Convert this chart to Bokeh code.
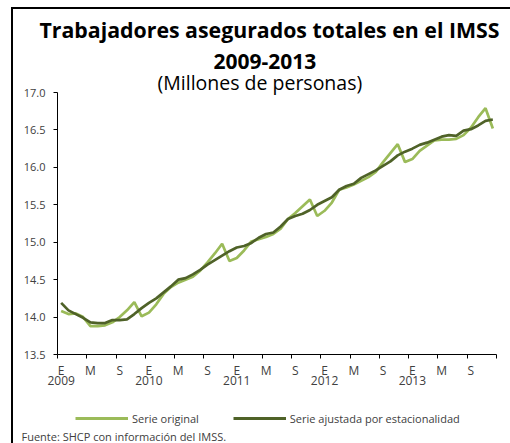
from bokeh.plotting import figure
from bokeh.layouts import column
from bokeh.models import (Range1d, FixedTicker, LinearAxis, Legend, LegendItem, Title,
                          NumeralTickFormatter, ColumnDataSource)
from bokeh.embed import file_html
from bokeh.resources import INLINE

# ---------------- data ----------------
years = ["2009", "2010", "2011", "2012", "2013"]
month_letters = ["E", "M", "S"]
serie_original = [
    14.08, 14.04, 14.05, 14.00, 13.88, 13.88, 13.89, 13.93, 14.00, 14.09, 14.20, 14.01,
    14.06, 14.17, 14.31, 14.40, 14.46, 14.50, 14.54, 14.62, 14.73, 14.85, 14.98, 14.75,
    14.79, 14.89, 15.01, 15.04, 15.07, 15.11, 15.18, 15.31, 15.39, 15.48, 15.57, 15.35,
    15.42, 15.53, 15.70, 15.73, 15.77, 15.82, 15.87, 15.94, 16.07, 16.19, 16.31, 16.07,
    16.11, 16.22, 16.29, 16.36, 16.37, 16.37, 16.38, 16.43, 16.53, 16.67, 16.79, 16.52,
]
serie_ajustada = [
    14.19, 14.09, 14.04, 13.99, 13.93, 13.92, 13.92, 13.96, 13.96, 13.97, 14.04, 14.12,
    14.19, 14.25, 14.33, 14.41, 14.50, 14.52, 14.57, 14.63, 14.70, 14.76, 14.82, 14.88,
    14.93, 14.95, 14.99, 15.06, 15.11, 15.13, 15.21, 15.31, 15.35, 15.38, 15.43, 15.50,
    15.55, 15.60, 15.70, 15.75, 15.78, 15.86, 15.91, 15.96, 16.02, 16.08, 16.16, 16.21,
    16.25, 16.30, 16.33, 16.37, 16.41, 16.43, 16.42, 16.49, 16.51, 16.56, 16.62, 16.64,
]
y_ticks = [13.5, 14.0, 14.5, 15.0, 15.5, 16.0, 16.5, 17.0]

title_1 = "Trabajadores asegurados totales en el IMSS"
title_2 = "2009-2013"
subtitle = "(Millones de personas)"
legend_labels = ["Serie original", "Serie ajustada por estacionalidad"]
source_text = "Fuente: SHCP con información del IMSS."

LIGHT = "#9BBB59"
DARK = "#4F6228"
FONT = "Open Sans"
GRAY = "#404040"

n = len(serie_original)
months = list(range(n))
src = ColumnDataSource(dict(m=months, o=serie_original, a=serie_ajustada))

W = 510
HA, HB = 392, 51

# ---------------- main chart ----------------
p = figure(width=W, height=HA, output_backend="svg", toolbar_location=None,
           x_range=Range1d(-0.5, n - 0.5), y_range=Range1d(13.5, 17.0),
           min_border_left=57, min_border_right=14, min_border_top=92, min_border_bottom=38,
           x_axis_type=None, y_axis_type=None)
p.title.visible = False
p.xgrid.visible = False
p.ygrid.visible = False
p.outline_line_color = None
p.background_fill_alpha = 0
p.border_fill_alpha = 0
p.styles = {
    "background": ("linear-gradient(#000,#000) 11px 7px / 2px 100% no-repeat, "
                   "linear-gradient(#000,#000) 11px 7px / 100% 2px no-repeat, #fff"),
}

yax = LinearAxis(ticker=FixedTicker(ticks=y_ticks), formatter=NumeralTickFormatter(format="0.0"))
yax.axis_line_color = "black"
yax.axis_line_width = 1
yax.major_tick_line_color = "black"
yax.major_tick_out = 4
yax.major_tick_in = 0
yax.minor_tick_line_color = None
yax.major_label_text_font = FONT
yax.major_label_text_font_size = "11px"
yax.major_label_text_color = GRAY
yax.major_label_standoff = 8
p.add_layout(yax, "left")

major = list(range(0, n, 4))
minor = [b - 0.5 for b in range(0, n + 1, 4)]
xax = LinearAxis(ticker=FixedTicker(ticks=major, minor_ticks=minor))
xax.major_label_overrides = {m: month_letters[(m % 12) // 4] for m in major}
xax.axis_line_color = "black"
xax.axis_line_width = 1
xax.major_tick_line_color = None
xax.minor_tick_line_color = "black"
xax.minor_tick_out = 4
xax.minor_tick_in = 0
xax.major_tick_out = 4
xax.major_label_text_font = FONT
xax.major_label_text_font_size = "12px"
xax.major_label_text_color = GRAY
xax.major_label_standoff = 3
p.add_layout(xax, "below")

year_ticks = list(range(0, n, 12))
yrax = LinearAxis(ticker=FixedTicker(ticks=year_ticks, minor_ticks=[]))
yrax.major_label_overrides = {t: years[i] for i, t in enumerate(year_ticks)}
yrax.axis_line_color = None
yrax.major_tick_line_color = None
yrax.minor_tick_line_color = None
yrax.major_tick_out = 0
yrax.major_tick_in = 0
yrax.major_label_text_font = FONT
yrax.major_label_text_font_size = "12px"
yrax.major_label_text_color = GRAY
yrax.major_label_standoff = -6
p.add_layout(yrax, "below")

p.line("m", "o", source=src, line_color=LIGHT, line_width=2.7)
p.line("m", "a", source=src, line_color=DARK, line_width=2.7)

sub = Title(text=subtitle, align="left", offset=100, standoff=-6,
            text_font=FONT, text_font_size="19.5px", text_font_style="normal", text_color="black")
t2 = Title(text=title_2, align="left", offset=156, standoff=2,
           text_font=FONT, text_font_size="21px", text_font_style="bold", text_color="black")
t1 = Title(text=title_1, align="left", offset=-18, standoff=13,
           text_font=FONT, text_font_size="21.3px", text_font_style="bold", text_color="black")
p.add_layout(sub, "above")
p.add_layout(t2, "above")
p.add_layout(t1, "above")

# ---------------- legend + source strip (frame aligned with the chart's) ----------------
q = figure(width=W, height=HB, output_backend="svg", toolbar_location=None,
           x_range=Range1d(0, 1), y_range=Range1d(0, 1),
           min_border_left=57, min_border_right=14, min_border_top=0, min_border_bottom=16,
           x_axis_type=None, y_axis_type=None)
q.title.visible = False
q.xgrid.visible = False
q.ygrid.visible = False
q.outline_line_color = None
q.background_fill_alpha = 0
q.border_fill_alpha = 0
q.styles = {
    "background": "linear-gradient(#000,#000) 11px 0px / 2px 100% no-repeat, #fff",
}
# legend-only renderers (kept outside the visible range)
e1 = q.line(x=[-10, -9], y=[-10, -10], line_color=LIGHT, line_width=2.8)
e2 = q.line(x=[-10, -9], y=[-10, -10], line_color=DARK, line_width=2.8)
legend = Legend(items=[LegendItem(label=legend_labels[0], renderers=[e1]),
                       LegendItem(label=legend_labels[1], renderers=[e2])],
                orientation="horizontal", location=(18, 0.5),
                glyph_width=53, glyph_height=14, label_height=14, label_standoff=4, spacing=34,
                padding=0, margin=0, border_line_color=None, background_fill_alpha=0,
                label_text_font=FONT, label_text_font_size="11px", label_text_color=GRAY)
q.add_layout(legend, "center")
foot = Title(text=source_text, align="left", offset=-36, standoff=0,
             text_font=FONT, text_font_size="11px", text_font_style="normal", text_color=GRAY)
q.add_layout(foot, "below")

layout = column(p, q, spacing=0)
open("out.html", "w").write(file_html(layout, INLINE))
